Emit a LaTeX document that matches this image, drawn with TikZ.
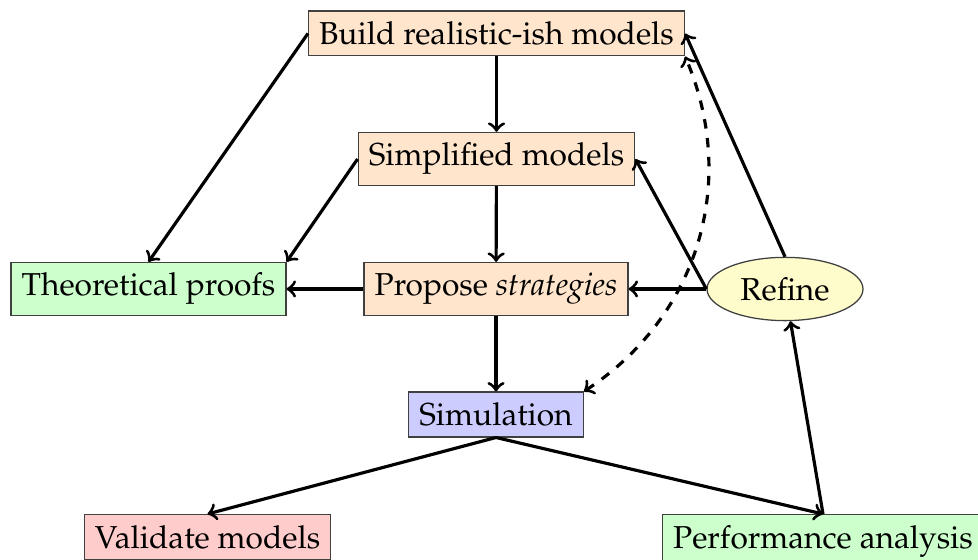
\documentclass[tikz,border=0pt]{standalone}
\usepackage[T1]{fontenc}
\usepackage{mathpazo}
\usetikzlibrary{shapes.geometric}
\begin{document}
\begin{tikzpicture}[x=0.3155pt,y=0.3155pt,
  box/.style={draw=black!75, fill=#1, rectangle},
  link/.style={->, line width=1pt, black},
]
\useasboundingbox (0,0) rectangle (978,-560);

% modelling pipeline
\node[box=orange!20] (build) at (496.5,-33.5) {Build realistic-ish models};
\node[box=orange!20] (simp)  at (496.5,-159)  {Simplified models};
\node[box=orange!20] (prop)  at (496,-289)    {Propose \emph{strategies}};
\node[box=green!20]  (theo)  at (148.5,-289)  {Theoretical proofs};
\node[draw=black!75, fill=yellow!20, ellipse] (refine) at (785,-289) {Refine};
\node[box=blue!20]   (sim)   at (496,-414.5)  {Simulation};
\node[box=red!20, anchor=north]   (val)  at (207.5,-514) {Validate models};
\node[box=green!20, anchor=north] (perf) at (823,-514)   {Performance analysis};

% main flow
\draw[link] (build) -- (simp);
\draw[link] (simp) -- (prop);
\draw[link] (prop) -- (sim);
\draw[link] (build.west) -- (theo.north);
\draw[link] (simp.west) -- (theo.north east);
\draw[link] (prop) -- (theo);

% feedback through refinement
\draw[link] (refine) -- (prop);
\draw[link] (refine.west) -- (simp.east);
\draw[link] (refine.north) -- (build.east);
\draw[link] (perf.north) -- (refine);

% outcomes of simulation
\draw[link] (sim.south) -- (val.north);
\draw[link] (sim.south) -- (perf.north);
\draw[link, dashed, <->] (sim.north east) to[bend right=40] (build.south east);
\end{tikzpicture}
\end{document}
